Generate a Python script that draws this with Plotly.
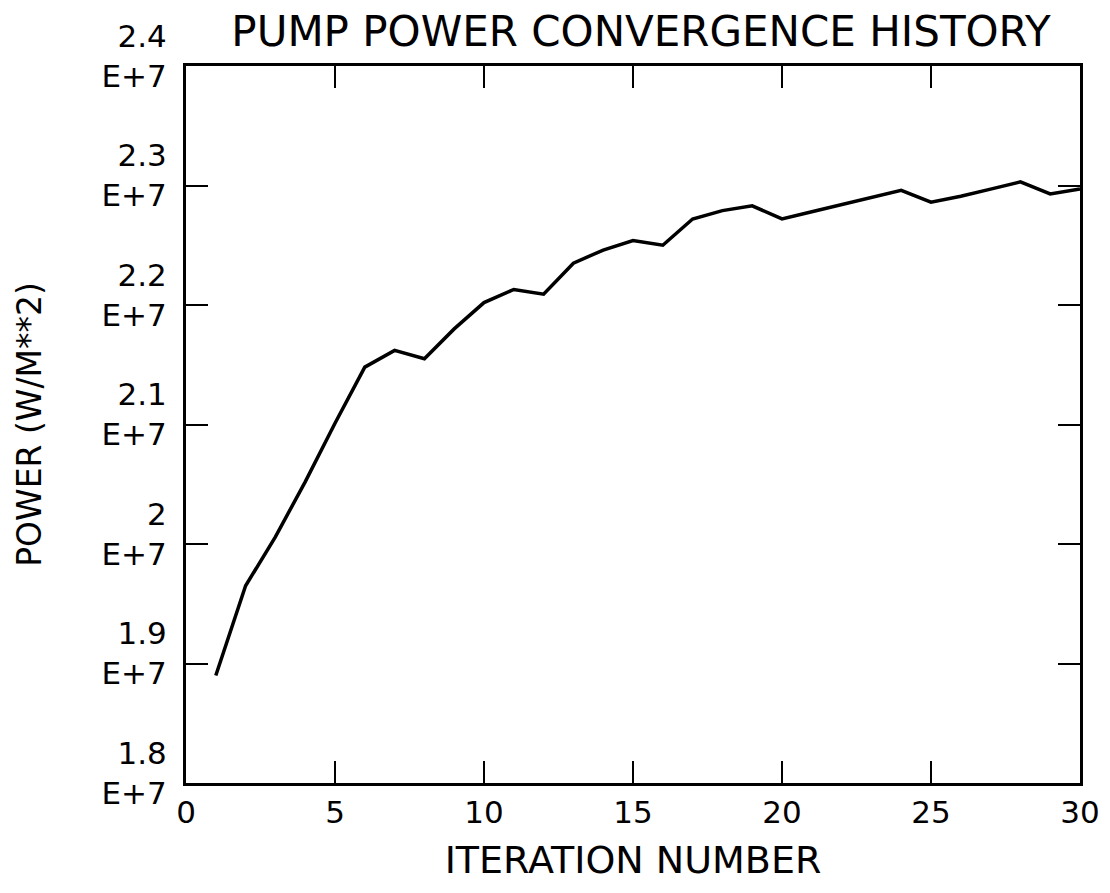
'''
    Pump power convergence history line chart.
'''
import plotly.graph_objects as go

iterations = list(range(1, 31))
power = [
    1.890e7, 1.965e7, 2.006e7, 2.052e7, 2.101e7, 2.148e7, 2.162e7, 2.155e7,
    2.180e7, 2.202e7, 2.213e7, 2.209e7, 2.235e7, 2.246e7, 2.254e7, 2.250e7,
    2.272e7, 2.279e7, 2.283e7, 2.272e7, 2.278e7, 2.284e7, 2.290e7, 2.296e7,
    2.286e7, 2.291e7, 2.297e7, 2.303e7, 2.293e7, 2.297e7,
]
x_ticks = [0, 5, 10, 15, 20, 25, 30]
y_ticks = [1.8e7, 1.9e7, 2.0e7, 2.1e7, 2.2e7, 2.3e7, 2.4e7]
y_tick_text = ['1.8<br>E+7', '1.9<br>E+7', '2<br>E+7', '2.1<br>E+7',
               '2.2<br>E+7', '2.3<br>E+7', '2.4<br>E+7']

FONT = 'DejaVu Sans'

# the page body adds an 8px offset, so the figure is a bit smaller
fig = go.Figure(
    go.Scatter(x=iterations, y=power, mode='lines',
               line=dict(color='black', width=3.5))
)

fig.update_layout(
    width=1102,
    height=885,
    plot_bgcolor='white',
    paper_bgcolor='white',
    showlegend=False,
    margin=dict(l=178, r=30, t=58, b=110, autoexpand=False),
    font=dict(family=FONT, color='black'),
    title=dict(
        text='PUMP POWER CONVERGENCE HISTORY',
        font=dict(size=42, family=FONT, color='black'),
        x=0.509, xref='paper', xanchor='center',
        y=1 - 23 / 885, yref='container', yanchor='middle'
    ),
)

fig.update_xaxes(
    range=[0, 30],
    tickvals=x_ticks,
    ticks='inside', ticklen=22, tickwidth=2, tickcolor='black',
    showline=True, linecolor='black', linewidth=3, mirror='ticks',
    showgrid=False, zeroline=False,
    tickfont=dict(size=31),
    ticklabelstandoff=0,
    title=dict(text='ITERATION NUMBER', font=dict(size=38), standoff=18),
    automargin=False,
)

fig.update_yaxes(
    range=[1.8e7, 2.4e7],
    tickvals=y_ticks, ticktext=y_tick_text,
    ticks='inside', ticklen=22, tickwidth=2, tickcolor='black',
    showline=True, linecolor='black', linewidth=3, mirror='ticks',
    showgrid=False, zeroline=False,
    tickfont=dict(size=31),
    ticklabelstandoff=10,
    ticklabelshift=-10,
    title=dict(text='POWER (W/M**2)', font=dict(size=33), standoff=50),
    automargin=False,
)

fig.write_html('out.html')
